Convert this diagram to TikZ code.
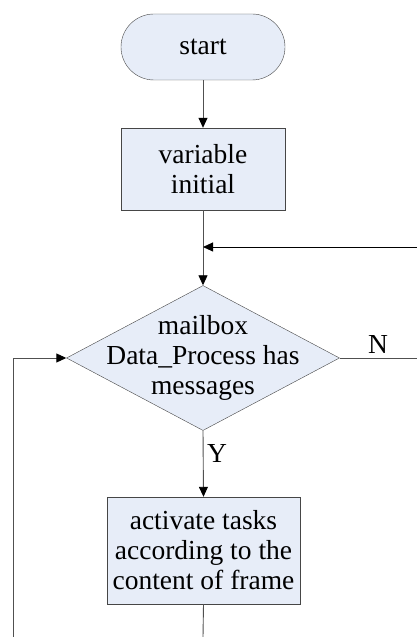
\documentclass[tikz,border=0pt]{standalone}
\usepackage{fontspec}
\setmainfont{Liberation Serif}
\usepackage{tikz}
\usetikzlibrary{shapes.geometric}
\usetikzlibrary{arrows.meta}
\definecolor{boxfill}{RGB}{231,237,248}
\definecolor{boxline}{RGB}{70,70,70}
\definecolor{flowline}{RGB}{80,80,80}
\tikzset{
    >={Triangle[width=9pt,length=10pt,color=black]},
    every node/.style={font=\fontsize{27.5}{30}\selectfont},
    terminal/.style={draw=boxline, fill=boxfill, rectangle, rounded corners=33pt,
        minimum width=164pt, minimum height=66pt, inner sep=0pt},
    process/.style={draw=boxline, fill=boxfill, rectangle, align=center,
        inner sep=0pt},
    decision/.style={draw=boxline, fill=boxfill, diamond, inner sep=0pt,
        minimum width=273pt, minimum height=145pt},
    flow/.style={draw=flowline, line width=0.9pt}
}

\begin{document}
\begin{tikzpicture}[x=1pt, y=1pt]
        \useasboundingbox (0,0) rectangle (417,637);

        \node[terminal] (start) at (203,590) {start};
        \node[process, minimum width=164pt, minimum height=82pt] (init) at (203,468) {variable\\initial};

        \coordinate (merge) at (203,390);
        \coordinate (retin) at (417,390);

        \node[decision] (mailbox) at (203,279) {};
        \node[align=center] (mailboxtext) at (mailbox) {mailbox\\Data\_Process has\\messages};

        \node[process, minimum width=193pt, minimum height=107pt] (activate) at (203.5,86.5) {activate tasks\\according to the\\content of frame};

        \draw[flow, ->] (start) -- (init);
        \draw[flow] (init) -- (merge);
        \draw[flow, ->] (merge) -- (mailbox);
        \draw[->, line width=0.9pt] (retin) -- (merge);

        % no branch
        \coordinate (nout) at (417,279);
        \draw[flow] (mailbox.east) -- (nout);
        \node[] (nlabel) at (378,292) {N};

        % yes branch
        \draw[flow, ->] (mailbox.south) -- (activate.north);
        \node[] (ylabel) at (217,184) {Y};

        % loop back from below
        \coordinate (actout) at (203,0);
        \coordinate (loopin) at (13,0);
        \coordinate (loopup) at (13,279);
        \draw[flow] (activate.south) -- (actout);
        \draw[flow, ->] (loopin) -- (loopup) -- (mailbox.west);

\end{tikzpicture}
\end{document}
